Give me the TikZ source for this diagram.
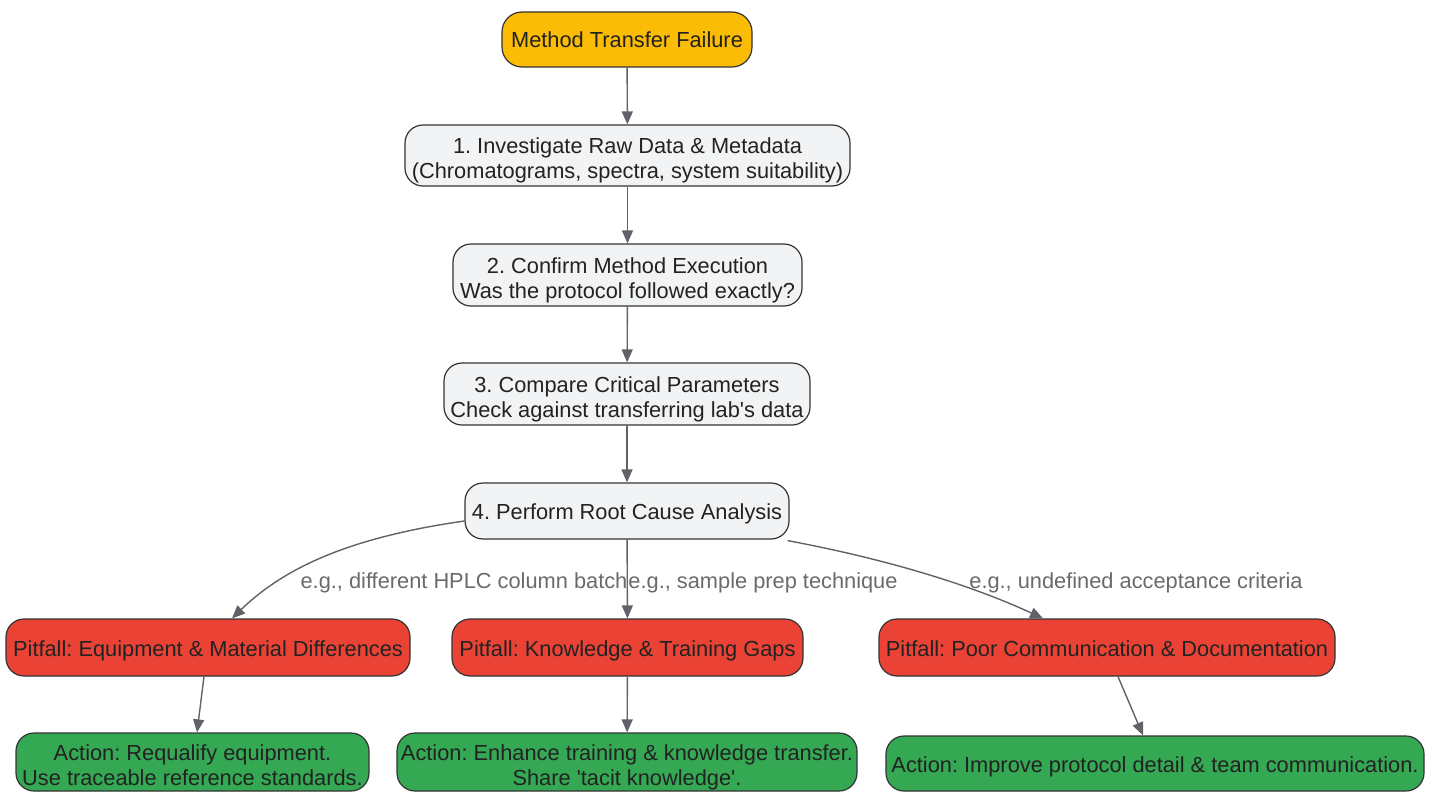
\documentclass[tikz,border=0pt]{standalone}
\usepackage{fontspec}
\setmainfont{Liberation Sans}
\usetikzlibrary{arrows.meta,calc}
\definecolor{cyel}{HTML}{FBBC05}
\definecolor{cgray}{HTML}{F1F3F4}
\definecolor{cred}{HTML}{EA4335}
\definecolor{cgreen}{HTML}{34A853}
\definecolor{cedge}{HTML}{5F6368}
\definecolor{cbord}{HTML}{333333}
\definecolor{ctext}{HTML}{222222}
\definecolor{clbl}{HTML}{6A6A6A}
\newcommand\twolines[2]{\raisebox{0pt}[25pt][29pt]{\begin{tabular}[t]{@{}c@{}}#1\\#2\end{tabular}}}
\tikzset{
  box/.style={draw=cbord, line width=1.2pt, rounded corners=18pt, align=center,
    inner sep=0pt, text=ctext, font=\fontsize{21.8}{25}\selectfont\frenchspacing,
    execute at begin node={\rule{0pt}{23pt}},
    execute at end node={\rule[-6pt]{0pt}{0pt}}},
  conn/.style={draw=cedge, line width=1.4pt, -{Triangle[length=13pt,width=11pt]}},
  lbl/.style={text=clbl, font=\fontsize{21.8}{25}\selectfont\frenchspacing, inner sep=0pt}
}
\begin{document}
\begin{tikzpicture}[x=1pt,y=-1pt]
\useasboundingbox (0,0) rectangle (1434,792);
\node[box, fill=cyel, minimum width=250pt, minimum height=55pt, rounded corners=20pt] (top) at (627,39.5) {Method Transfer Failure};
\node[box, fill=cgray, minimum width=445pt, minimum height=61pt] (n1) at (627.5,155.5) {\twolines{1. Investigate Raw Data \& Metadata}{(Chromatograms, spectra, system suitability)}};
\node[box, fill=cgray, minimum width=349pt, minimum height=62pt] (n2) at (627.5,275) {\twolines{2. Confirm Method Execution}{Was the protocol followed exactly?}};
\node[box, fill=cgray, minimum width=366pt, minimum height=62pt] (n3) at (627,394) {\twolines{3. Compare Critical Parameters}{Check against transferring lab\textquotesingle s data}};
\node[box, fill=cgray, minimum width=324pt, minimum height=56pt] (n4) at (627,511) {4. Perform Root Cause Analysis};
\node[box, fill=cred, minimum width=404pt, minimum height=57pt] (p1) at (208,647.5) {Pitfall: Equipment \& Material Differences};
\node[box, fill=cred, minimum width=351pt, minimum height=57pt] (p2) at (627.5,647.5) {Pitfall: Knowledge \& Training Gaps};
\node[box, fill=cred, minimum width=456pt, minimum height=57pt] (p3) at (1107,647.5) {Pitfall: Poor Communication \& Documentation};
\node[box, fill=cgreen, minimum width=353pt, minimum height=58pt] (a1) at (192.5,762) {\twolines{Action: Requalify equipment.}{Use traceable reference standards.}};
\node[box, fill=cgreen, minimum width=460pt, minimum height=58pt] (a2) at (627,762) {\twolines{Action: Enhance training \& knowledge transfer.}{Share \textquotesingle tacit knowledge\textquotesingle.}};
\node[box, fill=cgreen, minimum width=538pt, minimum height=55pt] (a3) at (1155,763.5) {Action: Improve protocol detail \& team communication.};

\node[lbl] (l1) at (464,583) {e.g., different HPLC column batch};
\node[lbl] (l2) at (763,583) {e.g., sample prep technique};
\node[lbl] (l3) at (1136,583) {e.g., undefined acceptance criteria};

\draw[conn] (top) -- (n1);
\draw[conn] (n1) -- (n2);
\draw[conn] (n2) -- (n3);
\draw[conn] (n3) -- (n4);
\draw[conn] ($(n4.west)+(0,10)$) .. controls (345,538) and (282,570) .. ($(p1.north)+(24,0)$);
\draw[conn] (n4) -- (p2);
\draw[conn] ($(n4.south east)+(-2,1)$) .. controls (870,556) and (960,580) .. ($(p3.north)+(-64,0)$);
\draw[conn] ($(p1.south)+(-4,0)$) -- ($(a1.north)+(4.5,0)$);
\draw[conn] (p2) -- (a2);
\draw[conn] ($(p3.south)+(11,0)$) -- ($(a3.north)+(-12,0)$);
\end{tikzpicture}
\end{document}
